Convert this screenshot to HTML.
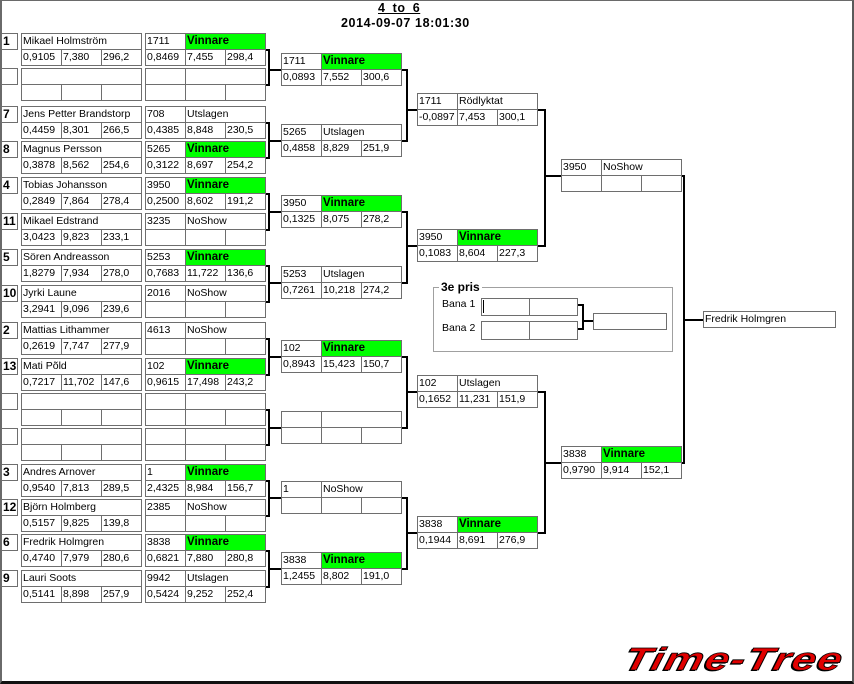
<!DOCTYPE html>
<html>
<head>
<meta charset="utf-8">
<style>
body{margin:0;background:#fff}
#w{position:relative;width:854px;height:684px;background:#fff;overflow:hidden;font-family:"Liberation Sans",sans-serif;color:#000}
.fr{position:absolute;left:0;top:0;width:854px;height:684px;box-sizing:border-box;border-top:1px solid #6a6a6a;border-left:2px solid #6a6a6a;border-right:2px solid #5a5a5a;border-bottom:3px solid #111}
.m{position:absolute;width:121px;height:33px}
.m div{position:absolute;box-sizing:border-box;border:1px solid #6e6e6e;height:17px;padding-left:1px;font-size:10.5px;line-height:15px;white-space:nowrap;overflow:hidden;background:#fff;color:#000}
.m .k{left:0;top:0;width:41px}
.m .v{left:40px;top:0;width:81px}
.m .nm{left:0;top:0;width:121px}
.m .p{left:0;top:16px;width:41px}
.m .q{left:40px;top:16px;width:41px}
.m .r{left:80px;top:16px;width:41px}
.m div.g{background:#00ff00;font-weight:bold;font-size:11.5px}
.sd{position:absolute;left:1px;width:17px;height:17px;box-sizing:border-box;border:1px solid #6e6e6e;font-weight:bold;font-size:12px;line-height:15px;padding-left:1px;background:#fff}
.L{position:absolute;background:#000}
.bx{position:absolute;box-sizing:border-box;border:1px solid #6e6e6e;background:#fff;font-size:10.5px;line-height:15px;padding-left:1px;white-space:nowrap}
.t1{position:absolute;left:378px;top:1px;font-weight:bold;font-size:12.5px;line-height:14px;letter-spacing:0.6px;word-spacing:3px;text-decoration:underline;white-space:nowrap}
.t2{position:absolute;left:341px;top:16px;font-weight:bold;font-size:12.5px;line-height:14px;letter-spacing:0.6px;white-space:nowrap}
.logo{position:absolute;left:621px;top:643px;font-style:italic;font-weight:bold;font-size:32px;line-height:32px;color:#e00000;letter-spacing:1px;white-space:nowrap;transform-origin:0 100%;transform:scaleX(1.36) skewX(-10deg);-webkit-text-stroke:0.8px #000;text-shadow:-1px 1px 0 #000}
</style>
</head>
<body>
<div id="w">
<div class="fr"></div>

<div class="t1">4 to 6</div>
<div class="t2">2014-09-07 18:01:30</div>

<!-- Round 1 entries -->
<div class="sd" style="top:33px">1</div>
<div class="m" style="left:21px;top:33px"><div class="nm">Mikael Holmström</div><div class="p">0,9105</div><div class="q">7,380</div><div class="r">296,2</div></div>
<div class="m" style="left:145px;top:33px"><div class="k">1711</div><div class="v g">Vinnare</div><div class="p">0,8469</div><div class="q">7,455</div><div class="r">298,4</div></div>

<div class="sd" style="top:68px"></div>
<div class="m" style="left:21px;top:68px"><div class="nm"></div><div class="p"></div><div class="q"></div><div class="r"></div></div>
<div class="m" style="left:145px;top:68px"><div class="k"></div><div class="v"></div><div class="p"></div><div class="q"></div><div class="r"></div></div>

<div class="sd" style="top:106px">7</div>
<div class="m" style="left:21px;top:106px"><div class="nm">Jens Petter Brandstorp</div><div class="p">0,4459</div><div class="q">8,301</div><div class="r">266,5</div></div>
<div class="m" style="left:145px;top:106px"><div class="k">708</div><div class="v">Utslagen</div><div class="p">0,4385</div><div class="q">8,848</div><div class="r">230,5</div></div>

<div class="sd" style="top:141px">8</div>
<div class="m" style="left:21px;top:141px"><div class="nm">Magnus Persson</div><div class="p">0,3878</div><div class="q">8,562</div><div class="r">254,6</div></div>
<div class="m" style="left:145px;top:141px"><div class="k">5265</div><div class="v g">Vinnare</div><div class="p">0,3122</div><div class="q">8,697</div><div class="r">254,2</div></div>

<div class="sd" style="top:177px">4</div>
<div class="m" style="left:21px;top:177px"><div class="nm">Tobias Johansson</div><div class="p">0,2849</div><div class="q">7,864</div><div class="r">278,4</div></div>
<div class="m" style="left:145px;top:177px"><div class="k">3950</div><div class="v g">Vinnare</div><div class="p">0,2500</div><div class="q">8,602</div><div class="r">191,2</div></div>

<div class="sd" style="top:213px">11</div>
<div class="m" style="left:21px;top:213px"><div class="nm">Mikael Edstrand</div><div class="p">3,0423</div><div class="q">9,823</div><div class="r">233,1</div></div>
<div class="m" style="left:145px;top:213px"><div class="k">3235</div><div class="v">NoShow</div><div class="p"></div><div class="q"></div><div class="r"></div></div>

<div class="sd" style="top:249px">5</div>
<div class="m" style="left:21px;top:249px"><div class="nm">Sören Andreasson</div><div class="p">1,8279</div><div class="q">7,934</div><div class="r">278,0</div></div>
<div class="m" style="left:145px;top:249px"><div class="k">5253</div><div class="v g">Vinnare</div><div class="p">0,7683</div><div class="q">11,722</div><div class="r">136,6</div></div>

<div class="sd" style="top:285px">10</div>
<div class="m" style="left:21px;top:285px"><div class="nm">Jyrki Laune</div><div class="p">3,2941</div><div class="q">9,096</div><div class="r">239,6</div></div>
<div class="m" style="left:145px;top:285px"><div class="k">2016</div><div class="v">NoShow</div><div class="p"></div><div class="q"></div><div class="r"></div></div>

<div class="sd" style="top:322px">2</div>
<div class="m" style="left:21px;top:322px"><div class="nm">Mattias Lithammer</div><div class="p">0,2619</div><div class="q">7,747</div><div class="r">277,9</div></div>
<div class="m" style="left:145px;top:322px"><div class="k">4613</div><div class="v">NoShow</div><div class="p"></div><div class="q"></div><div class="r"></div></div>

<div class="sd" style="top:358px">13</div>
<div class="m" style="left:21px;top:358px"><div class="nm">Mati Põld</div><div class="p">0,7217</div><div class="q">11,702</div><div class="r">147,6</div></div>
<div class="m" style="left:145px;top:358px"><div class="k">102</div><div class="v g">Vinnare</div><div class="p">0,9615</div><div class="q">17,498</div><div class="r">243,2</div></div>

<div class="sd" style="top:393px"></div>
<div class="m" style="left:21px;top:393px"><div class="nm"></div><div class="p"></div><div class="q"></div><div class="r"></div></div>
<div class="m" style="left:145px;top:393px"><div class="k"></div><div class="v"></div><div class="p"></div><div class="q"></div><div class="r"></div></div>

<div class="sd" style="top:428px"></div>
<div class="m" style="left:21px;top:428px"><div class="nm"></div><div class="p"></div><div class="q"></div><div class="r"></div></div>
<div class="m" style="left:145px;top:428px"><div class="k"></div><div class="v"></div><div class="p"></div><div class="q"></div><div class="r"></div></div>

<div class="sd" style="top:464px">3</div>
<div class="m" style="left:21px;top:464px"><div class="nm">Andres Arnover</div><div class="p">0,9540</div><div class="q">7,813</div><div class="r">289,5</div></div>
<div class="m" style="left:145px;top:464px"><div class="k">1</div><div class="v g">Vinnare</div><div class="p">2,4325</div><div class="q">8,984</div><div class="r">156,7</div></div>

<div class="sd" style="top:499px">12</div>
<div class="m" style="left:21px;top:499px"><div class="nm">Björn Holmberg</div><div class="p">0,5157</div><div class="q">9,825</div><div class="r">139,8</div></div>
<div class="m" style="left:145px;top:499px"><div class="k">2385</div><div class="v">NoShow</div><div class="p"></div><div class="q"></div><div class="r"></div></div>

<div class="sd" style="top:534px">6</div>
<div class="m" style="left:21px;top:534px"><div class="nm">Fredrik Holmgren</div><div class="p">0,4740</div><div class="q">7,979</div><div class="r">280,6</div></div>
<div class="m" style="left:145px;top:534px"><div class="k">3838</div><div class="v g">Vinnare</div><div class="p">0,6821</div><div class="q">7,880</div><div class="r">280,8</div></div>

<div class="sd" style="top:570px">9</div>
<div class="m" style="left:21px;top:570px"><div class="nm">Lauri Soots</div><div class="p">0,5141</div><div class="q">8,898</div><div class="r">257,9</div></div>
<div class="m" style="left:145px;top:570px"><div class="k">9942</div><div class="v">Utslagen</div><div class="p">0,5424</div><div class="q">9,252</div><div class="r">252,4</div></div>

<!-- Round 1 -> 2 connectors -->
<div class="L" style="left:266px;top:49px;width:4px;height:2px"></div><div class="L" style="left:266px;top:84px;width:4px;height:2px"></div><div class="L" style="left:268px;top:49px;width:2px;height:37px"></div><div class="L" style="left:268px;top:69px;width:13px;height:2px"></div>
<div class="L" style="left:266px;top:122px;width:4px;height:2px"></div><div class="L" style="left:266px;top:157px;width:4px;height:2px"></div><div class="L" style="left:268px;top:122px;width:2px;height:37px"></div><div class="L" style="left:268px;top:140px;width:13px;height:2px"></div>
<div class="L" style="left:266px;top:193px;width:4px;height:2px"></div><div class="L" style="left:266px;top:229px;width:4px;height:2px"></div><div class="L" style="left:268px;top:193px;width:2px;height:38px"></div><div class="L" style="left:268px;top:211px;width:13px;height:2px"></div>
<div class="L" style="left:266px;top:265px;width:4px;height:2px"></div><div class="L" style="left:266px;top:301px;width:4px;height:2px"></div><div class="L" style="left:268px;top:265px;width:2px;height:38px"></div><div class="L" style="left:268px;top:282px;width:13px;height:2px"></div>
<div class="L" style="left:266px;top:338px;width:4px;height:2px"></div><div class="L" style="left:266px;top:374px;width:4px;height:2px"></div><div class="L" style="left:268px;top:338px;width:2px;height:38px"></div><div class="L" style="left:268px;top:356px;width:13px;height:2px"></div>
<div class="L" style="left:266px;top:409px;width:4px;height:2px"></div><div class="L" style="left:266px;top:444px;width:4px;height:2px"></div><div class="L" style="left:268px;top:409px;width:2px;height:37px"></div><div class="L" style="left:268px;top:427px;width:13px;height:2px"></div>
<div class="L" style="left:266px;top:480px;width:4px;height:2px"></div><div class="L" style="left:266px;top:515px;width:4px;height:2px"></div><div class="L" style="left:268px;top:480px;width:2px;height:37px"></div><div class="L" style="left:268px;top:497px;width:13px;height:2px"></div>
<div class="L" style="left:266px;top:550px;width:4px;height:2px"></div><div class="L" style="left:266px;top:586px;width:4px;height:2px"></div><div class="L" style="left:268px;top:550px;width:2px;height:38px"></div><div class="L" style="left:268px;top:568px;width:13px;height:2px"></div>

<!-- Round 2 -->
<div class="m" style="left:281px;top:53px"><div class="k">1711</div><div class="v g">Vinnare</div><div class="p">0,0893</div><div class="q">7,552</div><div class="r">300,6</div></div>
<div class="m" style="left:281px;top:124px"><div class="k">5265</div><div class="v">Utslagen</div><div class="p">0,4858</div><div class="q">8,829</div><div class="r">251,9</div></div>
<div class="m" style="left:281px;top:195px"><div class="k">3950</div><div class="v g">Vinnare</div><div class="p">0,1325</div><div class="q">8,075</div><div class="r">278,2</div></div>
<div class="m" style="left:281px;top:266px"><div class="k">5253</div><div class="v">Utslagen</div><div class="p">0,7261</div><div class="q">10,218</div><div class="r">274,2</div></div>
<div class="m" style="left:281px;top:340px"><div class="k">102</div><div class="v g">Vinnare</div><div class="p">0,8943</div><div class="q">15,423</div><div class="r">150,7</div></div>
<div class="m" style="left:281px;top:411px"><div class="k"></div><div class="v"></div><div class="p"></div><div class="q"></div><div class="r"></div></div>
<div class="m" style="left:281px;top:481px"><div class="k">1</div><div class="v">NoShow</div><div class="p"></div><div class="q"></div><div class="r"></div></div>
<div class="m" style="left:281px;top:552px"><div class="k">3838</div><div class="v g">Vinnare</div><div class="p">1,2455</div><div class="q">8,802</div><div class="r">191,0</div></div>

<!-- Round 2 -> 3 connectors -->
<div class="L" style="left:402px;top:69px;width:5px;height:2px"></div><div class="L" style="left:402px;top:140px;width:5px;height:2px"></div><div class="L" style="left:406px;top:69px;width:2px;height:73px"></div><div class="L" style="left:406px;top:109px;width:11px;height:2px"></div>
<div class="L" style="left:402px;top:211px;width:5px;height:2px"></div><div class="L" style="left:402px;top:282px;width:5px;height:2px"></div><div class="L" style="left:406px;top:211px;width:2px;height:73px"></div><div class="L" style="left:406px;top:245px;width:11px;height:2px"></div>
<div class="L" style="left:402px;top:356px;width:5px;height:2px"></div><div class="L" style="left:402px;top:427px;width:5px;height:2px"></div><div class="L" style="left:406px;top:356px;width:2px;height:73px"></div><div class="L" style="left:406px;top:391px;width:11px;height:2px"></div>
<div class="L" style="left:402px;top:497px;width:5px;height:2px"></div><div class="L" style="left:402px;top:568px;width:5px;height:2px"></div><div class="L" style="left:406px;top:497px;width:2px;height:73px"></div><div class="L" style="left:406px;top:532px;width:11px;height:2px"></div>

<!-- Round 3 -->
<div class="m" style="left:417px;top:93px"><div class="k">1711</div><div class="v">Rödlyktat</div><div class="p">-0,0897</div><div class="q">7,453</div><div class="r">300,1</div></div>
<div class="m" style="left:417px;top:229px"><div class="k">3950</div><div class="v g">Vinnare</div><div class="p">0,1083</div><div class="q">8,604</div><div class="r">227,3</div></div>
<div class="m" style="left:417px;top:375px"><div class="k">102</div><div class="v">Utslagen</div><div class="p">0,1652</div><div class="q">11,231</div><div class="r">151,9</div></div>
<div class="m" style="left:417px;top:516px"><div class="k">3838</div><div class="v g">Vinnare</div><div class="p">0,1944</div><div class="q">8,691</div><div class="r">276,9</div></div>

<!-- Round 3 -> 4 connectors -->
<div class="L" style="left:538px;top:109px;width:7px;height:2px"></div><div class="L" style="left:538px;top:245px;width:7px;height:2px"></div><div class="L" style="left:544px;top:109px;width:2px;height:138px"></div><div class="L" style="left:544px;top:175px;width:17px;height:2px"></div>
<div class="L" style="left:538px;top:391px;width:7px;height:2px"></div><div class="L" style="left:538px;top:532px;width:7px;height:2px"></div><div class="L" style="left:544px;top:391px;width:2px;height:143px"></div><div class="L" style="left:544px;top:462px;width:17px;height:2px"></div>

<!-- Round 4 -->
<div class="m" style="left:561px;top:159px"><div class="k">3950</div><div class="v">NoShow</div><div class="p"></div><div class="q"></div><div class="r"></div></div>
<div class="m" style="left:561px;top:446px"><div class="k">3838</div><div class="v g">Vinnare</div><div class="p">0,9790</div><div class="q">9,914</div><div class="r">152,1</div></div>

<!-- Round 4 -> final -->
<div class="L" style="left:682px;top:175px;width:2px;height:2px"></div><div class="L" style="left:682px;top:462px;width:2px;height:2px"></div><div class="L" style="left:683px;top:175px;width:2px;height:289px"></div><div class="L" style="left:683px;top:319px;width:20px;height:2px"></div>

<div class="bx" style="left:703px;top:311px;width:133px;height:17px">Fredrik Holmgren</div>

<!-- 3e pris -->
<div style="position:absolute;left:433px;top:287px;width:240px;height:65px;box-sizing:border-box;border:1px solid #a0a0a0"></div>
<div style="position:absolute;left:439px;top:280px;background:#fff;padding:0 2px;font-weight:bold;font-size:12px;line-height:15px;white-space:nowrap">3e pris</div>
<div style="position:absolute;left:442px;top:297px;font-size:10.5px;line-height:14px;white-space:nowrap">Bana 1</div>
<div style="position:absolute;left:442px;top:321px;font-size:10.5px;line-height:14px;white-space:nowrap">Bana 2</div>
<div class="bx" style="left:481px;top:298px;width:49px;height:18px"></div>
<div class="bx" style="left:529px;top:298px;width:49px;height:18px"></div>
<div class="bx" style="left:481px;top:321px;width:49px;height:19px"></div>
<div class="bx" style="left:529px;top:321px;width:49px;height:19px"></div>
<div class="L" style="left:483px;top:300px;width:1px;height:13px"></div>
<div class="L" style="left:578px;top:304px;width:6px;height:2px"></div>
<div class="L" style="left:578px;top:328px;width:6px;height:2px"></div>
<div class="L" style="left:582px;top:304px;width:2px;height:26px"></div>
<div class="L" style="left:582px;top:320px;width:11px;height:2px"></div>
<div class="bx" style="left:593px;top:313px;width:74px;height:17px"></div>

<div class="logo">Time-Tree</div>
</div>
</body>
</html>
